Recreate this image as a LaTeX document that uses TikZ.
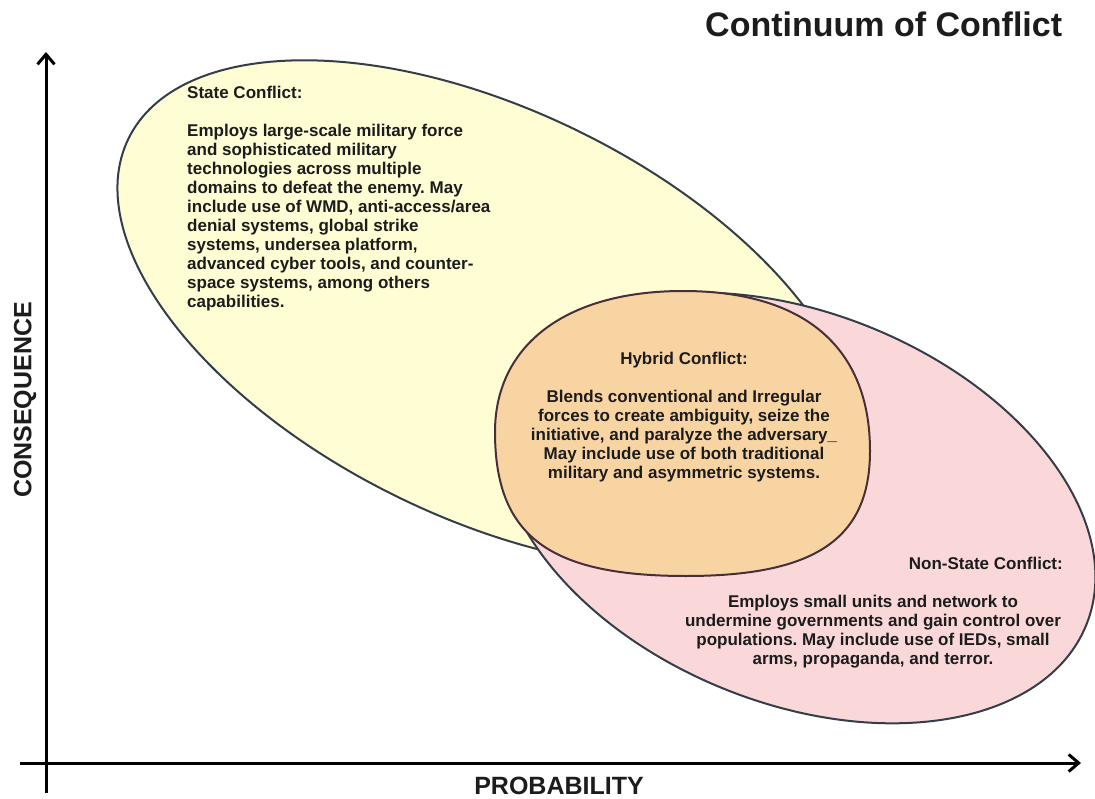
\documentclass[tikz,border=0pt]{standalone}
\usepackage{fontspec}
\setmainfont{Liberation Sans}
\usetikzlibrary{arrows.meta}
\definecolor{stateFill}{RGB}{255,253,212}
\definecolor{nonstateFill}{RGB}{250,216,217}
\definecolor{hybridFill}{RGB}{249,212,163}
\definecolor{rimColor}{RGB}{52,62,72}
\definecolor{hybridRim}{RGB}{72,46,58}
\definecolor{inkColor}{RGB}{28,28,28}
\newcommand{\bodyfont}{\fontsize{17}{19}\selectfont\bfseries}
\frenchspacing
\tikzset{
  blob/.style={line width=2pt, draw=rimColor},
  axisline/.style={line width=3pt, black, -{Straight Barb[length=10pt,width=17pt]}},
  bodytext/.style={font=\bodyfont, text=inkColor, inner sep=0pt},
  axislabel/.style={font=\fontsize{25}{28}\selectfont\bfseries, text=inkColor, inner sep=0pt},
}
\begin{document}
\begin{tikzpicture}[x=1pt,y=-1pt]
\fill[white] (0,0) rectangle (1095,799);
\useasboundingbox (0,0) rectangle (1095,799);

\coordinate (stateC) at (488,314);
\coordinate (nonstateC) at (797,508);

% state conflict ellipse
\filldraw[blob, fill=stateFill, rotate around={-26:(stateC)}] (stateC) ellipse [x radius=400pt, y radius=204pt];
% non-state conflict ellipse
\filldraw[blob, fill=nonstateFill, rotate around={-22:(nonstateC)}] (nonstateC) ellipse [x radius=312pt, y radius=195pt];
% hybrid conflict blob
\filldraw[blob, draw=hybridRim, fill=hybridFill]
  (683,291) .. controls (804,291) and (870,347) .. (870,451)
  .. controls (870,539) and (815,576) .. (686,576)
  .. controls (549,576) and (495,536) .. (495,432)
  .. controls (495,345) and (566,291) .. (683,291) -- cycle;

% axes
\coordinate (yBot) at (46,793);
\coordinate (yTop) at (46,52);
\coordinate (xLeft) at (20,763);
\coordinate (xRight) at (1081,763);
\draw[axisline] (yBot) -- (yTop);
\draw[axisline] (xLeft) -- (xRight);

% labels
\node[font=\fontsize{34}{38}\selectfont\bfseries, text=inkColor, inner sep=0pt, anchor=base west] (title) at (705,37) {Continuum of Conflict};
\node[axislabel, rotate=90] (consequence) at (25,400) {CONSEQUENCE};
\node[axislabel, anchor=base] (probability) at (559,794) {PROBABILITY};

\node[bodytext, anchor=north west, align=left] (stateText) at (187,86) {State Conflict:\\[19pt]
Employs large-scale military force\\
and sophisticated military\\
technologies across multiple\\
domains to defeat the enemy. May\\
include use of WMD, anti-access/area\\
denial systems, global strike\\
systems, undersea platform,\\
advanced cyber tools, and counter-\\
space systems, among others\\
capabilities.};

\node[bodytext, anchor=north, align=center] (hybridText) at (684,352) {Hybrid Conflict:\\[19pt]
Blends conventional and Irregular\\
forces to create ambiguity, seize the\\
initiative, and paralyze the adversary\_\\
May include use of both traditional\\
military and asymmetric systems.};

\node[bodytext, anchor=north east] (nonstateTitle) at (1063,557) {Non-State Conflict:};
\node[bodytext, anchor=north, align=center] (nonstateText) at (873,595) {Employs small units and network to\\
undermine governments and gain control over\\
populations. May include use of IEDs, small\\
arms, propaganda, and terror.};
\end{tikzpicture}
\end{document}
